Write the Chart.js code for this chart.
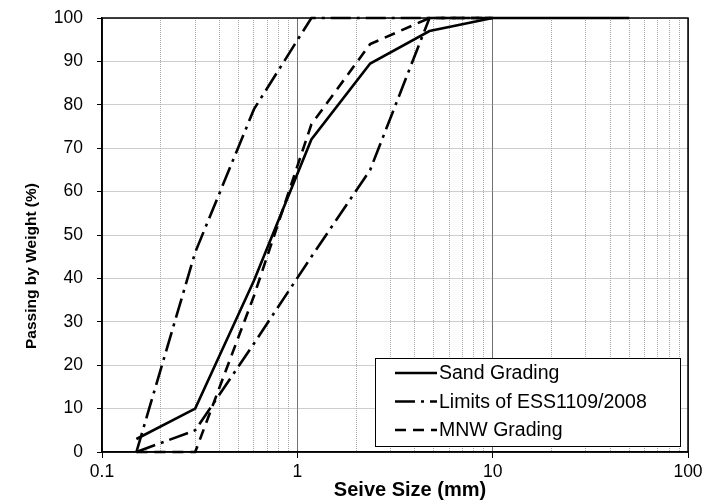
<!DOCTYPE html>
<html>
<head>
<meta charset="utf-8">
<script src="https://cdn.jsdelivr.net/npm/chart.js@4.4.1/dist/chart.umd.min.js"></script>
<style>
  html, body { margin: 0; padding: 0; background: #fff; }
  #wrap { position: relative; width: 707px; height: 501px; }
  canvas { display: block; }
</style>
</head>
<body>
<div id="wrap"><canvas id="c" width="707" height="501"></canvas></div>
<script>
// ---- data ----
const sieveSizes   = [0.15, 0.3, 0.6, 1.18, 2.36, 4.75, 10];
const sandSizes    = [0.15, 0.3, 0.6, 1.18, 2.36, 4.75, 10, 50];
const sandGrading  = [3, 10, 39.5, 72, 89.5, 97, 100, 100];
const limitUpper   = [0, 46, 79, 100, 100, 100, 100];
const limitLower   = [0, 5, 25, 45, 65, 100, 100];
const mnwGrading   = [0, 0, 36, 75.5, 94, 100, 100];
const xTickValues  = [0.1, 1, 10, 100];
const yTickValues  = [0, 10, 20, 30, 40, 50, 60, 70, 80, 90, 100];
const legendLabels = ['Sand Grading', 'Limits of ESS1109/2008', 'MNW Grading'];
const xTitle = 'Seive Size (mm)';
const yTitle = 'Passing by Weight (%)';

const FONT = "'Liberation Sans', Arial, sans-serif";
const DASHDOT = [20, 6, 3, 6];
const DASHED = [11, 7];

function pts(xs, ys) { return xs.map((x, i) => ({ x: x, y: ys[i] })); }

// all minor positions for the log grid
const logGrid = [];
for (let d = 0.1; d < 100; d *= 10) {
  for (let k = 1; k < 10; k++) logGrid.push(+(d * k).toPrecision(3));
}
logGrid.push(100);
const isDecade = v => xTickValues.some(t => Math.abs(t - v) < 1e-9);

const framePlugin = {
  id: 'frame',
  afterDatasetsDraw(chart) {
    const { ctx, chartArea: a } = chart;
    ctx.save();
    ctx.strokeStyle = '#000';
    ctx.lineWidth = 1.5;
    ctx.strokeRect(a.left, a.top, a.right - a.left, a.bottom - a.top);
    ctx.restore();
  },
  afterDraw(chart) {
    const { ctx, chartArea: a } = chart;
    ctx.save();
    // axis titles
    ctx.fillStyle = '#000';
    ctx.textAlign = 'center';
    ctx.textBaseline = 'middle';
    ctx.font = "bold 20px " + FONT;
    ctx.fillText(xTitle, 410, 490);
    ctx.save();
    ctx.translate(32, 266);
    ctx.rotate(-Math.PI / 2);
    ctx.font = "bold 15.5px " + FONT;
    ctx.fillText(yTitle, 0, 0);
    ctx.restore();

    // legend box inside the plot area
    const w = 305, h = 88;
    const x0 = a.right - 8 - w, y0 = a.bottom - 6 - h;
    ctx.fillStyle = '#fff';
    ctx.fillRect(x0, y0, w, h);
    ctx.strokeStyle = '#000';
    ctx.lineWidth = 1;
    ctx.strokeRect(x0 + 0.5, y0 + 0.5, w, h);
    const styles = [[], DASHDOT, DASHED];
    ctx.font = "19.5px " + FONT;
    ctx.textAlign = 'left';
    ctx.textBaseline = 'middle';
    ctx.fillStyle = '#000';
    for (let i = 0; i < 3; i++) {
      const y = y0 + 15 + i * 28.5;
      ctx.beginPath();
      ctx.setLineDash(styles[i]);
      ctx.lineWidth = 2.5;
      ctx.moveTo(x0 + 20, y);
      ctx.lineTo(x0 + 62, y);
      ctx.stroke();
      ctx.setLineDash([]);
      ctx.fillText(legendLabels[i], x0 + 64, y + 1);
    }
    ctx.restore();
  }
};

const lineDefaults = { borderColor: '#000', borderWidth: 2.6, pointRadius: 0, fill: false, tension: 0, clip: 6, showLine: true };

new Chart(document.getElementById('c'), {
  type: 'scatter',
  data: {
    datasets: [
      Object.assign({ label: legendLabels[0], data: pts(sandSizes, sandGrading), borderDash: [] }, lineDefaults),
      Object.assign({ label: legendLabels[1], data: pts(sieveSizes, limitUpper), borderDash: DASHDOT }, lineDefaults),
      Object.assign({ label: legendLabels[1] + ' (lower)', data: pts(sieveSizes, limitLower), borderDash: DASHDOT }, lineDefaults),
      Object.assign({ label: legendLabels[2], data: pts(sieveSizes, mnwGrading), borderDash: DASHED }, lineDefaults)
    ]
  },
  options: {
    responsive: false,
    animation: false,
    layout: { padding: { left: 0, right: 19, top: 18, bottom: 0 } },
    plugins: { legend: { display: false }, tooltip: { enabled: false } },
    scales: {
      x: {
        type: 'logarithmic',
        min: 0.1, max: 100,
        afterBuildTicks(scale) { scale.ticks = logGrid.map(v => ({ value: v })); },
        afterFit(scale) { scale.height = 49; scale.paddingLeft = 0; scale.paddingRight = 0; },
        ticks: {
          autoSkip: false, maxRotation: 0, minRotation: 0, padding: 4,
          color: '#000', font: { family: FONT, size: 17.5 },
          callback: v => isDecade(v) ? String(v) : ''
        },
        grid: {
          drawTicks: true, tickLength: 6,
          color: ctx => (ctx.tick && isDecade(ctx.tick.value)) ? '#707070' : '#a8a8a8',
          lineWidth: 1,
          tickColor: ctx => (ctx.tick && isDecade(ctx.tick.value)) ? '#000' : 'rgba(0,0,0,0)'
        },
        border: {
          display: true, color: '#000', width: 1.5,
          dash: ctx => (ctx.tick && isDecade(ctx.tick.value)) ? [] : [1, 1]
        },
        title: { display: false, text: xTitle }
      },
      y: {
        min: 0, max: 100,
        afterBuildTicks(scale) { scale.ticks = yTickValues.map(v => ({ value: v })); },
        afterFit(scale) { scale.width = 102; scale.paddingTop = 0; scale.paddingBottom = 0; },
        ticks: {
          color: '#000', padding: 14,
          font: { family: FONT, size: 17.5 }
        },
        grid: {
          drawTicks: true, tickLength: 5,
          color: '#9a9a9a', lineWidth: 1, tickColor: '#000'
        },
        border: { display: true, color: '#000', width: 1.5, dash: [1, 1] },
        title: { display: false, text: yTitle }
      }
    }
  },
  plugins: [framePlugin]
});
</script>
</body>
</html>
